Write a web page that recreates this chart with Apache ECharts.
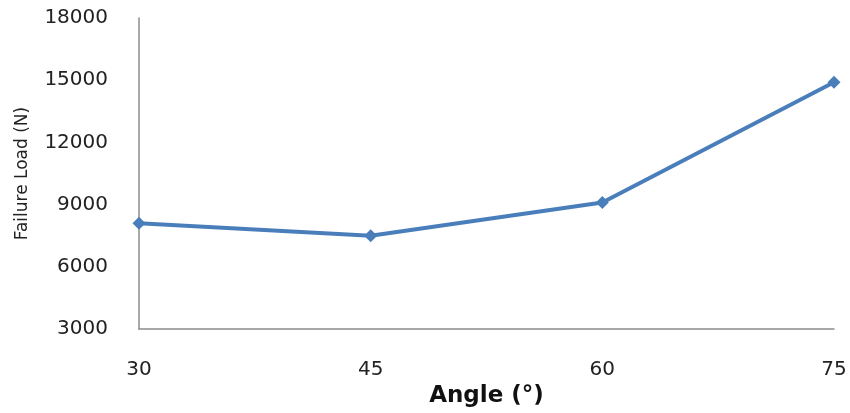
<!DOCTYPE html>
<html>
<head>
<meta charset="utf-8">
<script src="https://cdn.jsdelivr.net/npm/echarts@6/dist/echarts.min.js"></script>
<style>
  html, body { margin: 0; padding: 0; background: #fff; overflow: hidden; }
  #chart { width: 850px; height: 413px; }
</style>
</head>
<body>
<div id="chart"></div>
<script>
// Failure load versus angle
const angles = ['30', '45', '60', '75'];
const failureLoad = [8100, 7500, 9100, 14900];
const yTicks = { min: 3000, max: 18000, interval: 3000 };

const chart = echarts.init(document.getElementById('chart'));
const font = '"DejaVu Sans", "Liberation Sans", sans-serif';

chart.setOption({
  animation: false,
  grid: { left: 139, right: 16, top: 18, bottom: 68, containLabel: false },
  xAxis: {
    type: 'category',
    data: angles,
    boundaryGap: false,
    axisLine: { lineStyle: { color: '#8c8c8c', width: 1.5 } },
    axisTick: { show: false },
    axisLabel: { color: '#222', fontFamily: font, fontSize: 20, margin: 31 },
    name: 'Angle (°)',
    nameLocation: 'middle',
    nameGap: 36,
    nameTextStyle: { color: '#111', fontFamily: font, fontSize: 23, fontWeight: 'bold' },
    splitLine: { show: false }
  },
  yAxis: {
    type: 'value',
    min: yTicks.min,
    max: yTicks.max,
    interval: yTicks.interval,
    axisLine: { show: true, lineStyle: { color: '#8c8c8c', width: 1.5 } },
    axisTick: { show: false },
    splitLine: { show: false },
    axisLabel: { color: '#222', fontFamily: font, fontSize: 20, margin: 31, formatter: v => String(v) },
    name: 'Failure Load (N)',
    nameLocation: 'middle',
    nameGap: 108,
    nameRotate: 90,
    nameTextStyle: { color: '#222', fontFamily: font, fontSize: 17 }
  },
  series: [{
    type: 'line',
    data: failureLoad,
    symbol: 'diamond',
    symbolSize: 13,
    lineStyle: { color: '#4a7ebb', width: 4 },
    itemStyle: { color: '#4a7ebb' }
  }]
});
</script>
</body>
</html>
